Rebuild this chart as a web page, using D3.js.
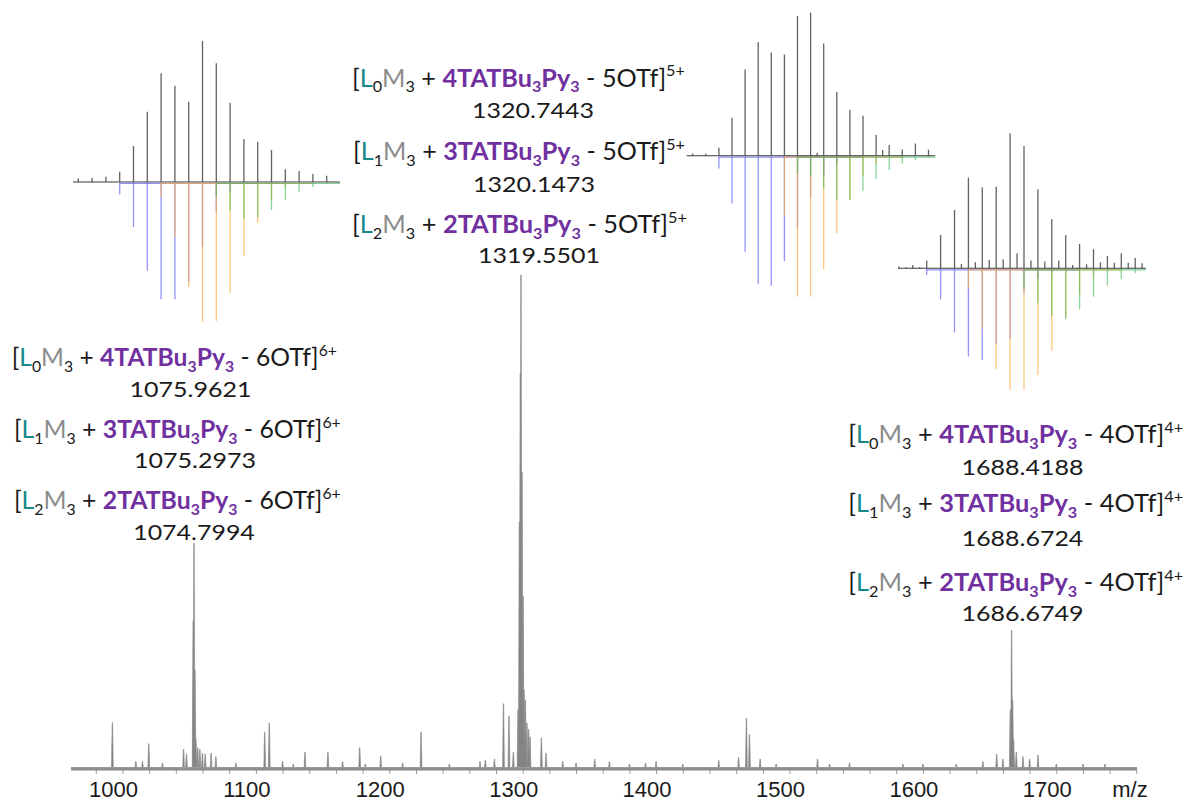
<!DOCTYPE html>
<html><head><meta charset="utf-8">
<script src="https://cdn.jsdelivr.net/npm/d3@7"></script>
<style>body{margin:0;background:#fff}svg{display:block}text{white-space:pre}</style>
</head><body>
<svg id="chart" width="1184" height="801"></svg>
<script>
// ---------------- DATA ----------------
// main spectrum (m/z, relative intensity %)
const spectrumMz = [992.4,1010,1015,1019.7,1030,1045.8,1048,1053.0,1053.6,1054.3,1055.0,1056.4,1058,1059.9,1062,1066.4,1070,1085,1106.6,1110.0,1120,1128,1136.8,1154.0,1165,1177.8,1182,1193.6,1210,1223.8,1245,1268,1272,1278.8,1285.6,1289.7,1293.0,1296.5,1297.5,1298.2,1298.7,1299.5,1300.3,1301.0,1302.0,1303.2,1304.5,1305.5,1314.0,1317.5,1330,1340,1354.0,1365,1380,1392,1400,1420,1447.0,1461.8,1467.7,1470.0,1478,1490,1521.0,1530,1545.0,1585,1600,1625,1645,1655.3,1660,1665.5,1666.5,1667.3,1668.0,1670.0,1675,1680,1686.3,1700,1720,1736.5];
const spectrumInt = [9.4,1.5,1.5,5.1,1.2,4.0,3,30,45.7,20,6,4.3,4,3.2,3,3.2,2.5,1.2,7.5,9.3,1.5,1,3.4,3.4,1.5,4.3,1,2.6,1.2,7.5,1,1.5,1.8,2.0,13.2,10.7,3.4,12,50,80,100,60,35,16,14,9.3,8,6.5,6.3,3.2,1.5,1.2,2.0,1.5,1,1.2,1.5,1,1.7,2.4,10.3,7,2,1,2.0,1,1.2,1,1,1,1.5,3.0,2,12,28.1,14,6,3.4,2.5,2,2.8,1,1,1.0];
const majorTicks = [1000,1100,1200,1300,1400,1500,1600,1700];
const minorTicks = d3.range(980, 1761, 20);
const axisTitle = "m/z";

// isotope insets: positions (isotope index), experimental and simulated intensities (%)
const inset6Pos = [0,1,2,3,4,5,6,7,8,9,10,11,12,13,14,15,16,17,18];
const inset6Exp = [2.6,2.8,3.8,7.3,25.5,49.9,77.1,68.3,57.0,100,84.2,56.2,30.5,28.6,22.7,9.0,7.8,5.7,4.5];
const inset6Blue = [0,0,0,8.7,32.1,62.9,83.2,83.2,70.9,46.1,21.3,7.1,0,0,0,0,0,0,0];
const inset6Orange = [0,0,0,0,0,0,10.6,39.0,74.5,99.3,98.6,78.7,52.5,29.1,12.8,4.3,0,0,0];
const inset6Green = [0,0,0,0,0,0,0,0,0,0,10.6,19.9,25.5,24.8,19.9,12.8,7.1,3.5,1.4];

const inset5Pos = [0,1,2,3,4,5,6,7,8,9,10,11,12,13,14,15,16,17,18,9.5,14.5];
const inset5Exp = [1.6,1.6,5.6,26.6,60.3,79.5,72.2,70.8,97.7,100,78.5,44.5,32.0,28.0,14.5,7.5,4.4,8.6,4.2,2.1,4.0];
const inset5Blue = [0,0,8.9,33.4,67.1,89.7,90.9,73.6,50.8,29.4,14.0,5.6,0,0,0,0,0,0,0];
const inset5Orange = [0,0,0,0,0,0,0,42,98.6,98.6,79.5,54.3,31,14,5.6,0,0,0,0];
const inset5Green = [0,0,0,0,0,0,0,0,12.4,14.7,22.9,31,31,24.5,16.3,10,5.4,3,1.2];

const inset4Pos = [-2,-1.5,-1,-0.5,0,1,2,3,4,5,6,7,8,9,10,11,12,13,14,15,2.5,3.5,4.5,5.5,6.5,7.5,8.5,9.5,10.5,11.5,12.5,13.5,14.5,15.5];
const inset4Exp = [1.3,0.8,2.4,1.0,5.7,24.7,43.2,67.2,59.8,60.5,100,90.6,58.5,36.5,24.7,18,14.1,9.1,11.1,7.6,3.2,4.4,6.1,6.7,11.1,5.7,5.0,5.7,2.4,3.0,4.4,4.2,4.2,3.7];
const inset4Blue = [5,23,47.6,65.4,67.9,56.1,51.9,18.5,7.4,3,0,0,0,0,0,0];
const inset4Orange = [0,0,0,14.8,44.4,74.8,90.1,90.1,79,61,37,18.5,7.4,0,0,0];
const inset4Green = [0,0,0,0,0,0,0,14.8,25.9,35.6,37.8,30.4,21,12.8,8.1,3.7];

// annotation texts
const ligandSubs = ["0","1","2"];
const tatCounts = ["4","3","2"];
const masses5 = ["1320.7443","1320.1473","1319.5501"];
const masses6 = ["1075.9621","1075.2973","1074.7994"];
const masses4 = ["1688.4188","1688.6724","1686.6749"];

// ---------------- DRAW ----------------
const svg = d3.select("#chart");
const C = {teal:"#17898a", grayM:"#8c8c8c", purple:"#7030a0", black:"#1a1a1a",
           blue:"#3b3bff", orange:"#ffae45", green:"#37b84e", spec:"#858585"};

// main spectrum
const x = d3.scaleLinear().domain([961.4, 1760.5]).range([71, 1137]);
const y = d3.scaleLinear().domain([0, 100]).range([769, 275]);
const peaks = spectrumMz.map((m,i)=>({m, v: spectrumInt[i]}));
const area = d3.area().x(d=>x(d[0])).y0(y(0)).y1(d=>y(d[1]));
const specG = svg.append("g");
specG.selectAll("path.pk").data(peaks).join("path")
  .attr("class","pk")
  .attr("d", d => area([[d.m-0.7,0],[d.m-0.15,d.v],[d.m+0.15,d.v],[d.m+0.7,0]]))
  .attr("fill", C.spec).attr("stroke", C.spec).attr("stroke-width", 0.6);
specG.append("rect").attr("x", x(961.4)).attr("y", y(0)-2).attr("width", x(1760.5)-x(961.4)).attr("height", 2).attr("fill", "#999");

// axis
const axG = svg.append("g").attr("transform", `translate(0,${y(0)})`);
axG.call(d3.axisBottom(x).tickValues(minorTicks).tickSize(4).tickFormat(""))
  .call(g=>g.select(".domain").attr("stroke","#8a8a8a").attr("stroke-width",2).attr("d", `M${x(961.4)},0.5H${x(1760.5)}`))
  .call(g=>g.selectAll(".tick line").attr("stroke","#9a9a9a").attr("transform","translate(0,1)"));
axG.selectAll("text.maj").data(majorTicks).join("text").attr("class","maj")
  .attr("x", d=>x(d)-9).attr("y", 28).attr("text-anchor","middle")
  .attr("font-family","'Liberation Sans', Arial, sans-serif").attr("font-size", 22).attr("fill", C.black)
  .text(d=>d);
axG.append("text").attr("x", 1130).attr("y", 28)
  .attr("font-family","'Liberation Sans', Arial, sans-serif").attr("font-size", 22).attr("fill", C.black)
  .text(axisTitle);

// insets
function drawInset(cfg, pos, exp, blue, orange, green) {
  const g = svg.append("g");
  const ix = d3.scaleLinear().domain([0,1]).range([cfg.x0, cfg.x0 + cfg.step]);
  const yu = d3.scaleLinear().domain([0,100]).range([cfg.base, cfg.base - cfg.h]);
  const yd = d3.scaleLinear().domain([0,100]).range([cfg.base, cfg.base + cfg.h]);
  const sims = [[blue, C.blue, 0.55], [orange, C.orange, 0.7], [green, C.green, 0.6]];
  sims.forEach(([arr, col, op]) => {
    const idx = arr.map((v,i)=>[i,v]).filter(d=>d[1]>0);
    if (!idx.length) return;
    g.append("line").attr("x1", ix(idx[0][0])).attr("x2", Math.min(cfg.right, ix(idx[idx.length-1][0]+2)))
      .attr("y1", cfg.base+1.5).attr("y2", cfg.base+1.5).attr("stroke", col).attr("stroke-opacity", op).attr("stroke-width", 1.2);
    g.selectAll(null).data(idx).join("line")
      .attr("x1", d=>ix(d[0])).attr("x2", d=>ix(d[0]))
      .attr("y1", cfg.base+1).attr("y2", d=>yd(d[1]))
      .attr("stroke", col).attr("stroke-opacity", op).attr("stroke-width", 1.3);
  });
  g.append("line").attr("x1", cfg.left).attr("x2", cfg.right).attr("y1", cfg.base).attr("y2", cfg.base)
    .attr("stroke", "#3a3a3a").attr("stroke-width", 1.1);
  g.selectAll(null).data(pos.map((p,i)=>[p, exp[i]])).join("line")
    .attr("x1", d=>ix(d[0])).attr("x2", d=>ix(d[0]))
    .attr("y1", cfg.base).attr("y2", d=>yu(d[1]))
    .attr("stroke", "#454545").attr("stroke-opacity", 0.85).attr("stroke-width", 1.3);
}
drawInset({x0:78.3, step:13.8, base:182, h:141, left:73, right:340}, inset6Pos, inset6Exp, inset6Blue, inset6Orange, inset6Green);
drawInset({x0:692.7, step:13.1, base:155.7, h:143, left:686.7, right:935.3}, inset5Pos, inset5Exp, inset5Blue, inset5Orange, inset5Green);
drawInset({x0:926.7, step:13.9, base:268.3, h:135, left:898, right:1146}, inset4Pos, inset4Exp, inset4Blue, inset4Orange, inset4Green);

// annotations
const FONT = "Lato, 'Open Sans', sans-serif";
function formulaParts(sub, n, loss, charge) {
  return [
    {t:"[", c:C.black}, {t:"L", c:C.teal}, {t:sub, c:C.black, s:"sub"},
    {t:"M", c:C.grayM}, {t:"3", c:C.black, s:"sub"}, {t:" + ", c:C.black},
    {t:n+"TATBu", c:C.purple, b:true}, {t:"3", c:C.purple, b:true, s:"sub"},
    {t:"Py", c:C.purple, b:true}, {t:"3", c:C.purple, b:true, s:"sub"},
    {t:" - "+loss+"OTf]", c:C.black}, {t:charge+"+", c:C.black, s:"sup"}
  ];
}
function drawFormula(parts, left, baseline, width, fs) {
  const g = svg.append("g");
  const t = g.append("text").attr("font-family", FONT).attr("font-size", fs);
  let shift = 0;
  parts.forEach(p => {
    const target = p.s==="sub" ? 0.22*fs : p.s==="sup" ? -0.42*fs : 0;
    t.append("tspan").text(p.t).attr("fill", p.c)
      .attr("font-weight", p.b ? 700 : 400)
      .attr("font-size", p.s ? 0.64*fs : fs)
      .attr("dy", target - shift);
    shift = target;
  });
  const w = t.node().getBBox().width;
  g.attr("transform", `translate(${left},${baseline}) scale(${width/w},1)`);
}
function drawNumber(txt, cx, baseline, width, fs) {
  const g = svg.append("g");
  const t = g.append("text").attr("font-family", FONT).attr("font-size", fs)
    .attr("text-anchor","middle").attr("fill", C.black).text(txt);
  const w = t.node().getBBox().width;
  g.attr("transform", `translate(${cx},${baseline}) scale(${width/w},1)`);
}
const blocks = [
  {masses:masses5, loss:"5", charge:"5", left:[352,353,352], width:[333,332,335], fb:[86.5,160,233], nb:[118,191.5,263], nc:[533,534,539]},
  {masses:masses6, loss:"6", charge:"6", left:[11.7,14,14], width:[325.3,327,327], fb:[366,438,509], nb:[397,468,540], nc:[190.5,195,194]},
  {masses:masses4, loss:"4", charge:"4", left:[848.3,848.3,848.3], width:[335,335,335], fb:[443,512,591], nb:[475,546,621], nc:[1022.5,1022.5,1022.5]}
];
blocks.forEach(b => {
  for (let i=0;i<3;i++) {
    drawFormula(formulaParts(ligandSubs[i], tatCounts[i], b.loss, b.charge), b.left[i], b.fb[i], b.width[i], 25);
    drawNumber(b.masses[i], b.nc[i], b.nb[i], 122, 22);
  }
});
</script>
</body></html>
